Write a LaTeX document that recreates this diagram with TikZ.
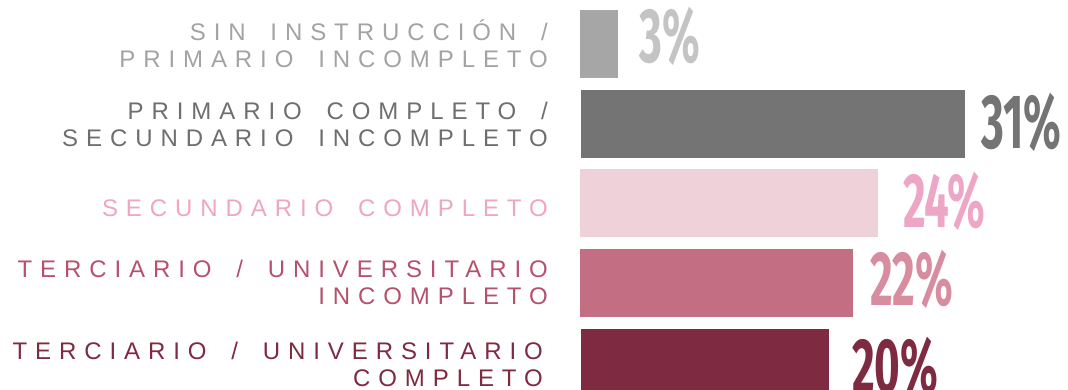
\documentclass[tikz,border=0pt]{standalone}
\usepackage{fontspec}
\usetikzlibrary{positioning,calc}
\newfontfamily\labelfont[LetterSpace=33,WordSpace=1.7]{Liberation Sans}
\newfontfamily\pctfont[FakeStretch=0.57]{Fira Sans}

\definecolor{barA}{HTML}{A6A6A6}
\definecolor{barB}{HTML}{747474}
\definecolor{barC}{HTML}{EFD1DA}
\definecolor{barD}{HTML}{C36E82}
\definecolor{barE}{HTML}{7E2A40}
\definecolor{lblA}{HTML}{A3A3A3}
\definecolor{lblB}{HTML}{6E6E6E}
\definecolor{lblC}{HTML}{F0A5C2}
\definecolor{lblD}{HTML}{B5516C}
\definecolor{lblE}{HTML}{7E2A40}
\definecolor{pctA}{HTML}{C4C4C4}
\definecolor{pctB}{HTML}{747474}
\definecolor{pctC}{HTML}{EEA6C6}
\definecolor{pctD}{HTML}{D88CA0}
\definecolor{pctE}{HTML}{7E2A40}

\begin{document}
\begin{tikzpicture}[x=1pt, y=-1pt,
  bar/.style={anchor=west, minimum height=68pt, inner sep=0pt, outer sep=0pt},
  lbl/.style={anchor=south east, align=right, inner sep=0pt,
    font=\labelfont\fontsize{24}{27}\selectfont},
  pct/.style={anchor=base west, inner sep=0pt,
    font=\pctfont\bfseries\fontsize{77}{77}\selectfont}]
\useasboundingbox (0,0) rectangle (1068,390);
\clip (0,0) rectangle (1068,390);

% bars, 12.4pt per percent
\node[bar, fill=barA, minimum width=38pt]  (b1) at (580,44) {};
\node[bar, fill=barB, minimum width=384pt] (b2) at (581,124) {};
\node[bar, fill=barC, minimum width=298pt] (b3) at (580,203) {};
\node[bar, fill=barD, minimum width=273pt] (b4) at (580,283) {};
\node[bar, fill=barE, minimum width=248pt] (b5) at (581,363) {};

% percentages
\node[pct, text=pctA] (p1) at ($(b1.east)+(21,19)$) {3\%};
\node[pct, text=pctB] (p2) at ($(b2.east)+(16,25)$) {31\%};
\node[pct, text=pctC] (p3) at ($(b3.east)+(25,25)$) {24\%};
\node[pct, text=pctD] (p4) at ($(b4.east)+(17,22)$) {22\%};
\node[pct, text=pctE] (p5) at ($(b5.east)+(23,29)$) {20\%};

% labels
\node[lbl, text=lblA] (l1) at (548,68) {SIN INSTRUCCIÓN /\\PRIMARIO INCOMPLETO};
\node[lbl, text=lblB] (l2) at (548,147) {PRIMARIO COMPLETO /\\SECUNDARIO INCOMPLETO};
\node[lbl, text=lblC] (l3) at (548,217) {SECUNDARIO COMPLETO};
\node[lbl, text=lblD] (l4) at (548,305) {TERCIARIO / UNIVERSITARIO\\INCOMPLETO};
\node[lbl, text=lblE] (l5) at (543,387) {TERCIARIO / UNIVERSITARIO\\COMPLETO};
\end{tikzpicture}
\end{document}
